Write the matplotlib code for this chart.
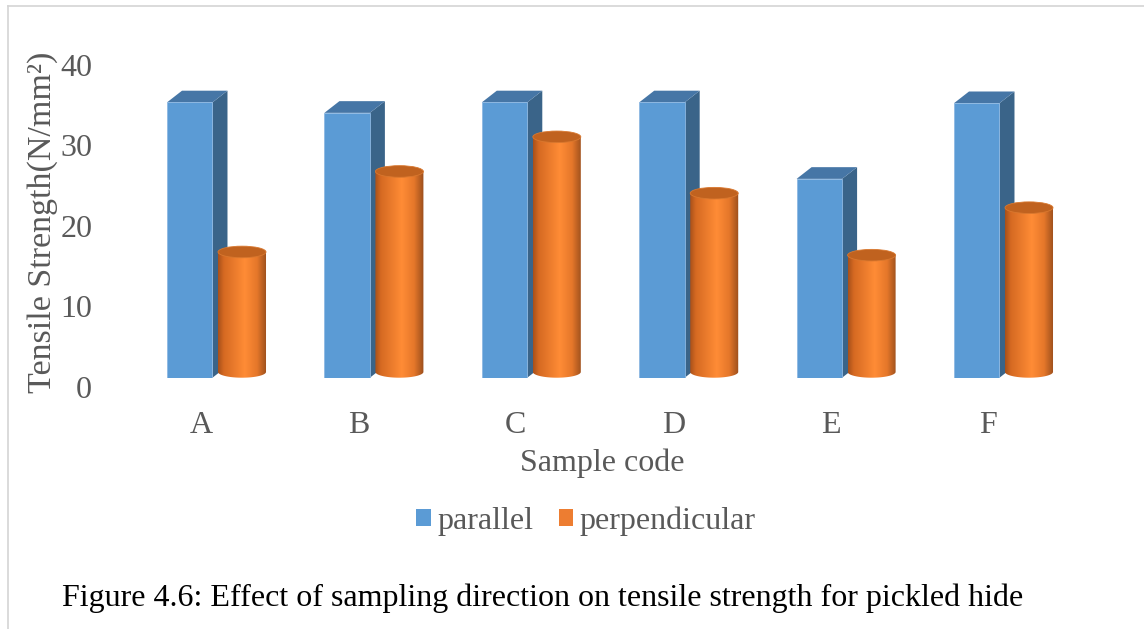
import numpy as np
import matplotlib
matplotlib.use("Agg")
import matplotlib.pyplot as plt
from matplotlib.patches import Polygon, Ellipse, Patch
from matplotlib.path import Path
from matplotlib.colors import LinearSegmentedColormap
from matplotlib.lines import Line2D
from matplotlib.transforms import ScaledTranslation

# ---- data ----
categories = ["A", "B", "C", "D", "E", "F"]
parallel = [34.2, 32.9, 34.2, 34.2, 24.7, 34.1]
perpendicular = [14.9, 24.9, 29.2, 22.2, 14.5, 20.4]
series_names = ["parallel", "perpendicular"]
y_ticks = [0, 10, 20, 30, 40]

# ---- style ----
plt.rcParams["font.family"] = ["Liberation Serif", "DejaVu Serif"]
TEXT = "#595959"
FRONT = "#5B9BD5"
TOP = "#4676A6"
SIDE = "#3A6489"
CYL_TOP = "#C0621F"
FS = 23

W, H = 1144, 629
fig = plt.figure(figsize=(W / 100, H / 100), dpi=100)

# axes placed in pixel terms
ax_left, ax_right = 95, 1100
y0_px, px_per_unit = 377.7, 8.05
ax = fig.add_axes([ax_left / W, (H - y0_px) / H,
                   (ax_right - ax_left) / W, 40 * px_per_unit / H])
cat_px = 157.4
x_lo = (ax_left - 201) / cat_px
x_hi = x_lo + (ax_right - ax_left) / cat_px
ax.set_xlim(x_lo, x_hi)
ax.set_ylim(0, 40)
for s in ax.spines.values():
    s.set_visible(False)

# 3-D look parameters (category / value units)
box_off, box_w = -0.216, 0.289
depth_x, depth_y = 15 / cat_px, 11.7 / px_per_unit
cyl_off, cyl_r = 0.2605, 0.1525
cyl_ry = 5.8 / px_per_unit

cyl_cmap = LinearSegmentedColormap.from_list(
    "cyl", [(0.0, "#A8501A"), (0.12, "#D66A22"), (0.55, "#FF8C36"),
            (0.80, "#E5772A"), (1.0, "#9A4E1C")])
grad = np.linspace(0, 1, 256)[None, :]

for i, (pv, qv) in enumerate(zip(parallel, perpendicular)):
    # box bar: front, top, right side
    xl = i + box_off
    xr = xl + box_w
    ax.add_patch(Polygon([(xr, 0), (xr + depth_x, depth_y),
                          (xr + depth_x, pv + depth_y), (xr, pv)],
                         closed=True, facecolor=SIDE, edgecolor="none", zorder=2))
    ax.add_patch(Polygon([(xl, pv), (xr, pv), (xr + depth_x, pv + depth_y),
                          (xl + depth_x, pv + depth_y)],
                         closed=True, facecolor=TOP, edgecolor="none", zorder=2))
    ax.add_patch(Polygon([(xl, 0), (xr, 0), (xr, pv), (xl, pv)],
                         closed=True, facecolor=FRONT, edgecolor="#8DB8E2",
                         linewidth=0.6, zorder=3))

    # cylinder bar
    cx = i + cyl_off
    base = cyl_ry
    top = base + qv
    t = np.linspace(0, np.pi, 60)
    arc = np.column_stack([cx + cyl_r * np.cos(t), base - cyl_ry * np.sin(t)])
    verts = np.vstack([[cx - cyl_r, top], [cx + cyl_r, top], arc, [[cx - cyl_r, top]]])
    body = Path(verts, closed=True)
    im = ax.imshow(grad, cmap=cyl_cmap, aspect="auto", interpolation="bilinear",
                   extent=[cx - cyl_r, cx + cyl_r, 0, top], zorder=4)
    im.set_clip_path(body, transform=ax.transData)
    ax.add_patch(Ellipse((cx, top), 2 * cyl_r, 2 * cyl_ry, facecolor=CYL_TOP,
                         edgecolor="#D9782F", linewidth=0.6, zorder=5))

ax.set_xlim(x_lo, x_hi)
ax.set_ylim(0, 40)

ax.set_xticks(range(len(categories)))
ax.set_xticklabels(categories)
ax.set_yticks(y_ticks)
ax.tick_params(axis="both", length=0, labelsize=FS, labelcolor=TEXT)
ax.tick_params(axis="y", pad=2)
ax.tick_params(axis="x", pad=24)
shift = ScaledTranslation(0, -9 / 100, fig.dpi_scale_trans)
for lab in ax.get_yticklabels():
    lab.set_transform(lab.get_transform() + shift)

ax.set_xlabel("Sample code", fontsize=FS, color=TEXT)
ax.xaxis.set_label_coords((602 - ax_left) / (ax_right - ax_left),
                          (y0_px - 463) / (40 * px_per_unit))
ax.xaxis.label.set_va("center")
ax.set_ylabel("Tensile Strength(N/mm²)", fontsize=24.5, color=TEXT)
ax.yaxis.set_label_coords((43 - ax_left) / (ax_right - ax_left),
                          (y0_px - 222) / (40 * px_per_unit))
ax.yaxis.label.set_va("center")

handles = [Patch(facecolor=FRONT, edgecolor="none"),
           Patch(facecolor="#ED7D31", edgecolor="none")]
fig.legend(handles, series_names, loc="center", bbox_to_anchor=(586 / W, 1 - 521 / H),
           ncol=2, frameon=False, fontsize=FS, labelcolor=TEXT,
           handlelength=0.45, handleheight=0.45, handletextpad=0.2, columnspacing=0.8)

fig.text(62 / W, 1 - 598 / H,
         "Figure 4.6: Effect of sampling direction on tensile strength for pickled hide",
         fontsize=FS, color="black", ha="left", va="center")

# thin frame on the top and left edges
fig.add_artist(Line2D([7.5 / W, 7.5 / W], [0, 1 - 6 / H], transform=fig.transFigure,
                      color="#D4D4D4", linewidth=1.2))
fig.add_artist(Line2D([7.5 / W, 1], [1 - 6 / H, 1 - 6 / H], transform=fig.transFigure,
                      color="#D4D4D4", linewidth=1.2))

fig.savefig("out.png", dpi=100, facecolor="white")
